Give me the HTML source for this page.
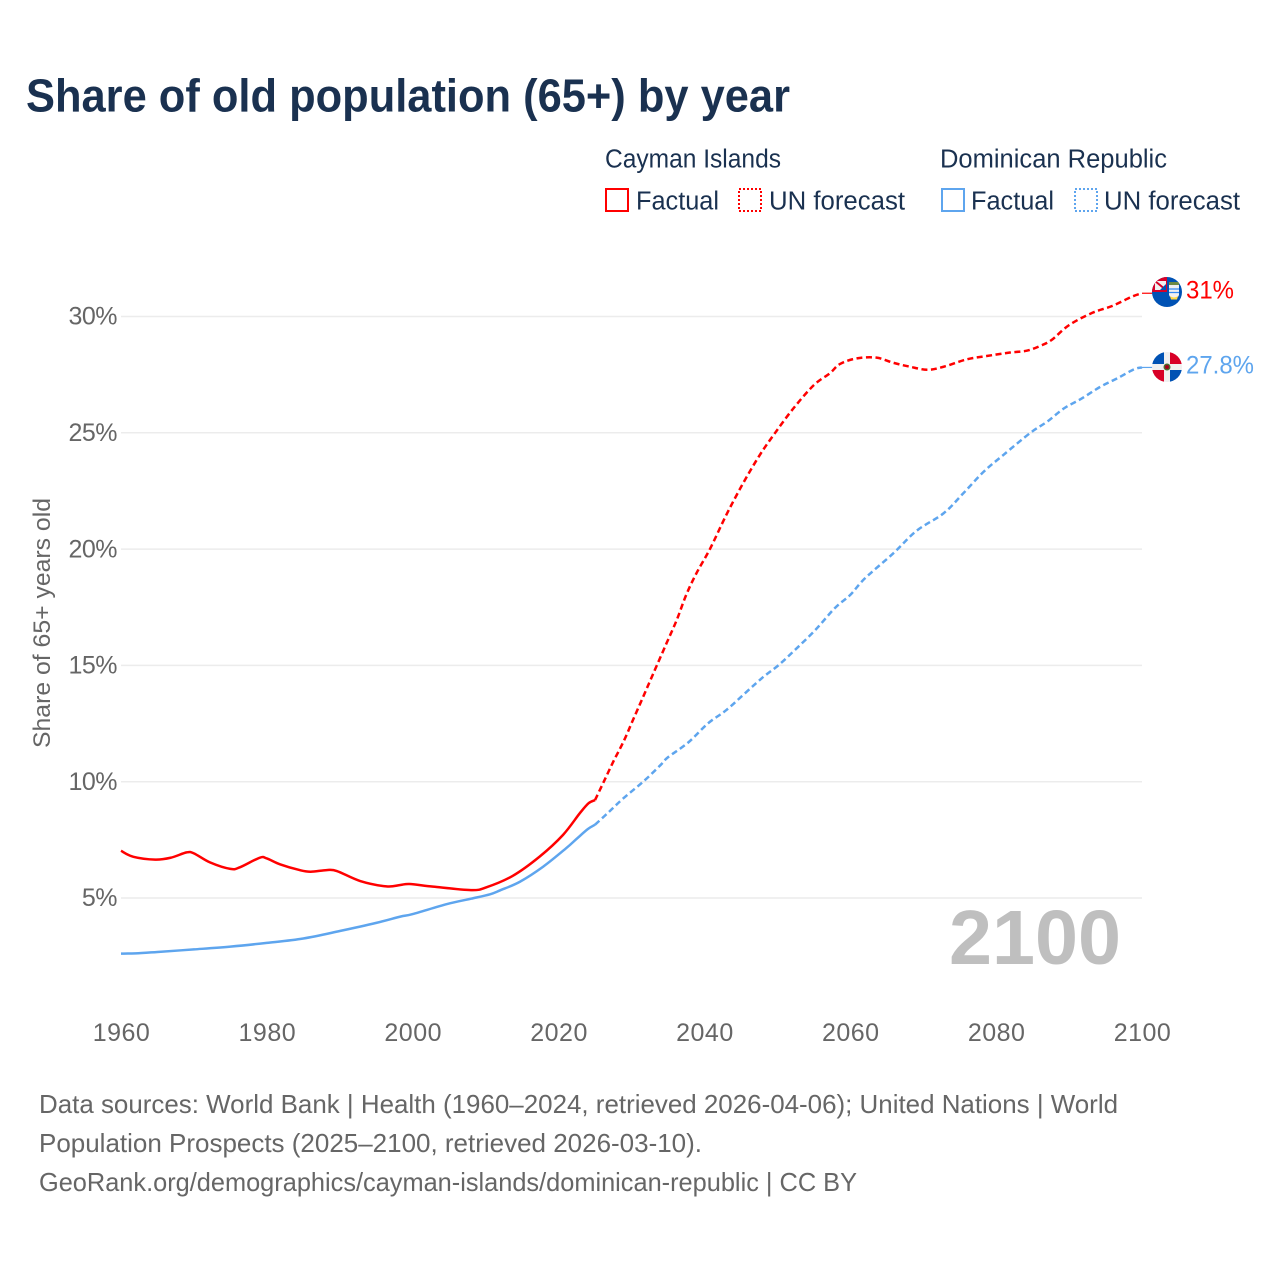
<!DOCTYPE html>
<html lang="en">
<head>
<meta charset="utf-8">
<title>Share of old population (65+) by year</title>
<style>
html,body{margin:0;padding:0;background:#fff;width:1280px;height:1280px;overflow:hidden}
svg{display:block;font-family:"Liberation Sans",sans-serif}
.legend{font-size:25.5px;fill:#1a3150}
.tick{font-size:25px;fill:#666}
.foot{font-size:26px;fill:#666}
</style>
</head>
<body>
<svg id="chart" width="1280" height="1280" viewBox="0 0 1280 1280" xmlns="http://www.w3.org/2000/svg">
  <defs>
    <clipPath id="flag-clip-ky"><circle cx="1167" cy="292" r="15"/></clipPath>
    <clipPath id="flag-clip-do"><circle cx="1167" cy="367" r="15"/></clipPath>
    <clipPath id="ky-canton-clip"><rect x="1152" y="277" width="15" height="15"/></clipPath>
  </defs>
  <rect width="1280" height="1280" fill="#fff"/>
  <text x="26" y="111.500" font-size="46" font-weight="700" fill="#1a3150" textLength="764" lengthAdjust="spacingAndGlyphs">Share of old population (65+) by year</text>

  <g>
    <text class="legend" x="605" y="167.500" textLength="176" lengthAdjust="spacingAndGlyphs">Cayman Islands</text>
    <rect x="606" y="189" width="22" height="22" fill="none" stroke="#ff0000" stroke-width="2"/>
    <text class="legend" x="636" y="209.500" textLength="83" lengthAdjust="spacingAndGlyphs">Factual</text>
    <rect x="739" y="189" width="22" height="22" fill="none" stroke="#ff0000" stroke-width="2" stroke-dasharray="2 2"/>
    <text class="legend" x="769" y="209.500" textLength="136" lengthAdjust="spacingAndGlyphs">UN forecast</text>

    <text class="legend" x="940" y="167.500" textLength="227" lengthAdjust="spacingAndGlyphs">Dominican Republic</text>
    <rect x="942" y="189" width="22" height="22" fill="none" stroke="#5ea5ee" stroke-width="2"/>
    <text class="legend" x="971" y="209.500" textLength="83" lengthAdjust="spacingAndGlyphs">Factual</text>
    <rect x="1075" y="189" width="22" height="22" fill="none" stroke="#5ea5ee" stroke-width="2" stroke-dasharray="2 2"/>
    <text class="legend" x="1104" y="209.500" textLength="136" lengthAdjust="spacingAndGlyphs">UN forecast</text>
  </g>

  <g id="grid"></g>
  <g id="ytick-labels"></g>
  <g id="xtick-labels"></g>
  <text transform="translate(50,623) rotate(-90)" text-anchor="middle" font-size="24" fill="#666" textLength="250" lengthAdjust="spacingAndGlyphs">Share of 65+ years old</text>

  <text x="949" y="964" font-size="77" font-weight="700" fill="#bfbfbf" textLength="172" lengthAdjust="spacingAndGlyphs">2100</text>

  <g id="series"></g>

  <g clip-path="url(#flag-clip-ky)">
    <rect x="1152" y="277" width="30" height="30" fill="#0052b4"/>
    <rect x="1152" y="277" width="15" height="15" fill="#d80027"/>
    <rect x="1155" y="281" width="11" height="9" fill="#f0f0f0"/>
    <g clip-path="url(#ky-canton-clip)">
      <path d="M1155 281 L1166 290" stroke="#d80027" stroke-width="2"/>
      <path d="M1160 290 L1166 290 L1166 284 Z" fill="#0052b4"/>
    </g>
    <rect x="1169" y="282" width="10" height="3" fill="#6d8a44"/>
    <path d="M1169 285 h10 v10 q-1 3 -5 4 q-4 -1 -5 -4 z" fill="#f0f0f0"/>
    <path d="M1169 289 h10 M1169 292.500 h10" stroke="#338af3" stroke-width="1.300"/>
    <path d="M1170 296 q4 3 8 0 l-1 3.500 h-6 z" fill="#ffda44"/>
  </g>
  <g clip-path="url(#flag-clip-do)">
    <rect x="1152" y="352" width="30" height="30" fill="#f0f0f0"/>
    <rect x="1152" y="352" width="12" height="12" fill="#0052b4"/>
    <rect x="1170" y="352" width="12" height="12" fill="#d80027"/>
    <rect x="1152" y="370" width="12" height="12" fill="#d80027"/>
    <rect x="1170" y="370" width="12" height="12" fill="#0052b4"/>
    <circle cx="1167" cy="367" r="3.500" fill="#496e2d"/>
    <circle cx="1167" cy="367" r="2" fill="#a2001d"/>
  </g>

  <text x="1186" y="298.500" font-size="25" fill="#ff0000" textLength="48" lengthAdjust="spacingAndGlyphs">31%</text>
  <text x="1186" y="373.500" font-size="25" fill="#5ea5ee" textLength="68" lengthAdjust="spacingAndGlyphs">27.8%</text>

  <g>
    <text class="foot" x="39" y="1113" textLength="1079" lengthAdjust="spacingAndGlyphs">Data sources: World Bank | Health (1960–2024, retrieved 2026-04-06); United Nations | World</text>
    <text class="foot" x="39" y="1152" textLength="663" lengthAdjust="spacingAndGlyphs">Population Prospects (2025–2100, retrieved 2026-03-10).</text>
    <text class="foot" x="39" y="1191" textLength="818" lengthAdjust="spacingAndGlyphs">GeoRank.org/demographics/cayman-islands/dominican-republic | CC BY</text>
  </g>
</svg>
<script>
// Chart data
const yTickValues = [5, 10, 15, 20, 25, 30];
const yTickLabels = ['5%', '10%', '15%', '20%', '25%', '30%'];
const xTickValues = [1960, 1980, 2000, 2020, 2040, 2060, 2080, 2100];
const xTickLabels = ['1960', '1980', '2000', '2020', '2040', '2060', '2080', '2100'];

const caymanFactualYears = [1960, 1961.7, 1964.7, 1966.8, 1969, 1970, 1972.2, 1975, 1976.3, 1979, 1980, 1981.8, 1984.5, 1986, 1988.2, 1989.6, 1992.8, 1996.4, 1998.3, 1999.6, 2002.8, 2008, 2010.1, 2013.7, 2017.4, 2020.6, 2022.9, 2024.1, 2025];
const caymanFactualValues = [7.03, 6.77, 6.65, 6.73, 6.96, 6.92, 6.53, 6.25, 6.32, 6.73, 6.7, 6.45, 6.2, 6.13, 6.2, 6.16, 5.73, 5.5, 5.56, 5.6, 5.49, 5.34, 5.46, 5.95, 6.78, 7.71, 8.64, 9.07, 9.21];

const caymanForecastYears = [2025, 2026.2, 2027.5, 2028.9, 2030.2, 2031.6, 2033, 2034.8, 2036.2, 2037.5, 2038.9, 2040.8, 2043, 2045.3, 2047.6, 2049.7, 2052.2, 2055, 2057.2, 2058.6, 2060.9, 2063.6, 2065.9, 2068.2, 2070.6, 2072.8, 2076, 2078.7, 2081.9, 2084.2, 2086, 2087.6, 2090, 2093.2, 2095.9, 2098.6, 2100];
const caymanForecastValues = [9.21, 10.0, 10.86, 11.72, 12.65, 13.65, 14.66, 15.95, 16.95, 18.03, 18.96, 20.03, 21.47, 22.83, 24.05, 25.0, 26.05, 27.05, 27.56, 27.96, 28.2, 28.23, 28.01, 27.84, 27.71, 27.84, 28.16, 28.3, 28.45, 28.53, 28.73, 28.99, 29.63, 30.16, 30.45, 30.85, 31.0];

const dominicanFactualYears = [1960, 1962, 1965, 1970, 1975, 1980, 1985, 1990, 1995, 1998.3, 2000, 2004.7, 2008, 2010.6, 2012, 2014.7, 2017.9, 2021, 2022.5, 2024, 2025];
const dominicanFactualValues = [2.61, 2.62, 2.68, 2.79, 2.91, 3.07, 3.26, 3.58, 3.93, 4.2, 4.31, 4.74, 4.97, 5.16, 5.33, 5.7, 6.35, 7.13, 7.55, 7.96, 8.15];

const dominicanForecastYears = [2025, 2026.8, 2028.9, 2031.6, 2034, 2035, 2037.8, 2040.5, 2043, 2045.8, 2048.1, 2050.2, 2052.4, 2055.2, 2057.9, 2060, 2062, 2065.9, 2069.1, 2072.8, 2075.5, 2078.3, 2081, 2084.7, 2087, 2089.3, 2091.6, 2094.3, 2096.6, 2098.9, 2100];
const dominicanForecastValues = [8.15, 8.67, 9.29, 10.0, 10.72, 11.05, 11.69, 12.51, 13.08, 13.87, 14.51, 15.02, 15.66, 16.52, 17.47, 18.03, 18.74, 19.82, 20.79, 21.54, 22.4, 23.33, 24.05, 25.0, 25.48, 26.05, 26.45, 26.98, 27.34, 27.73, 27.81];

// Axis functions
const xScale = year => 121 + (year - 1960) * (1142 - 121) / 140;
const yScale = value => 898 - (value - 5) * (898 - 316.5) / 25;

const NS = 'http://www.w3.org/2000/svg';
const gridGroup = document.getElementById('grid');
const yLabelGroup = document.getElementById('ytick-labels');
const xLabelGroup = document.getElementById('xtick-labels');
const seriesGroup = document.getElementById('series');

yTickValues.forEach((value, i) => {
  const line = document.createElementNS(NS, 'line');
  
  
  line.setAttribute('x1', xScale(1960));
  line.setAttribute('x2', xScale(2100));
  line.setAttribute('y1', yScale(value));
  line.setAttribute('y2', yScale(value));
  line.setAttribute('stroke', '#ececec');
  line.setAttribute('stroke-width', '1.5');
  gridGroup.appendChild(line);

  const label = document.createElementNS(NS, 'text');
  
  
  label.setAttribute('class', 'tick');
  label.setAttribute('x', 117);
  label.setAttribute('y', yScale(value) + 8.2);
  label.setAttribute('text-anchor', 'end');
  label.setAttribute('letter-spacing', '-0.5');
  label.textContent = yTickLabels[i];
  yLabelGroup.appendChild(label);
});

xTickValues.forEach((value, i) => {
  const label = document.createElementNS(NS, 'text');
  
  
  label.setAttribute('class', 'tick');
  label.setAttribute('x', xScale(value) + 0.5);
  label.setAttribute('y', 1041);
  label.setAttribute('text-anchor', 'middle');
  label.setAttribute('letter-spacing', '0.5');
  label.textContent = xTickLabels[i];
  xLabelGroup.appendChild(label);
});

// Smooth curve through the data points (Catmull-Rom converted to Bezier)
function buildPath(years, values) {
  const pts = years.map((year, i) => [xScale(year), yScale(values[i])]);
  let d = 'M' + pts[0][0].toFixed(2) + ' ' + pts[0][1].toFixed(2);
  for (let i = 0; i < pts.length - 1; i++) {
    const p0 = pts[Math.max(i - 1, 0)];
    const p1 = pts[i];
    const p2 = pts[i + 1];
    const p3 = pts[Math.min(i + 2, pts.length - 1)];
    const c1x = p1[0] + (p2[0] - p0[0]) / 6;
    const c1y = p1[1] + (p2[1] - p0[1]) / 6;
    const c2x = p2[0] - (p3[0] - p1[0]) / 6;
    const c2y = p2[1] - (p3[1] - p1[1]) / 6;
    d += ' C' + c1x.toFixed(2) + ' ' + c1y.toFixed(2) + ' ' + c2x.toFixed(2) + ' ' + c2y.toFixed(2) + ' ' + p2[0].toFixed(2) + ' ' + p2[1].toFixed(2);
  }
  return d;
}

function drawSeries(years, values, color, dashed) {
  const path = document.createElementNS(NS, 'path');
  path.setAttribute('d', buildPath(years, values));
  path.setAttribute('fill', 'none');
  path.setAttribute('stroke', color);
  path.setAttribute('stroke-width', '2.5');
  path.setAttribute('stroke-linejoin', 'round');
  if (dashed) path.setAttribute('stroke-dasharray', '6 3.5');
  seriesGroup.appendChild(path);
  return path;
}

const caymanFactualLine = drawSeries(caymanFactualYears, caymanFactualValues, '#ff0000', false);


const dominicanFactualLine = drawSeries(dominicanFactualYears, dominicanFactualValues, '#5ea5ee', false);


const caymanForecastLine = drawSeries(caymanForecastYears, caymanForecastValues, '#ff0000', true);


const dominicanForecastLine = drawSeries(dominicanForecastYears, dominicanForecastValues, '#5ea5ee', true);



function drawLeader(value, color) {
  const leader = document.createElementNS(NS, 'line');
  leader.setAttribute('x1', xScale(2100));
  leader.setAttribute('x2', 1153);
  leader.setAttribute('y1', yScale(value));
  leader.setAttribute('y2', yScale(value));
  leader.setAttribute('stroke', color);
  leader.setAttribute('stroke-width', '1.2');
  seriesGroup.appendChild(leader);
  return leader;
}

const caymanLeader = drawLeader(caymanForecastValues[caymanForecastValues.length - 1], '#ff0000');


const dominicanLeader = drawLeader(dominicanForecastValues[dominicanForecastValues.length - 1], '#5ea5ee');


</script>
</body>
</html>
